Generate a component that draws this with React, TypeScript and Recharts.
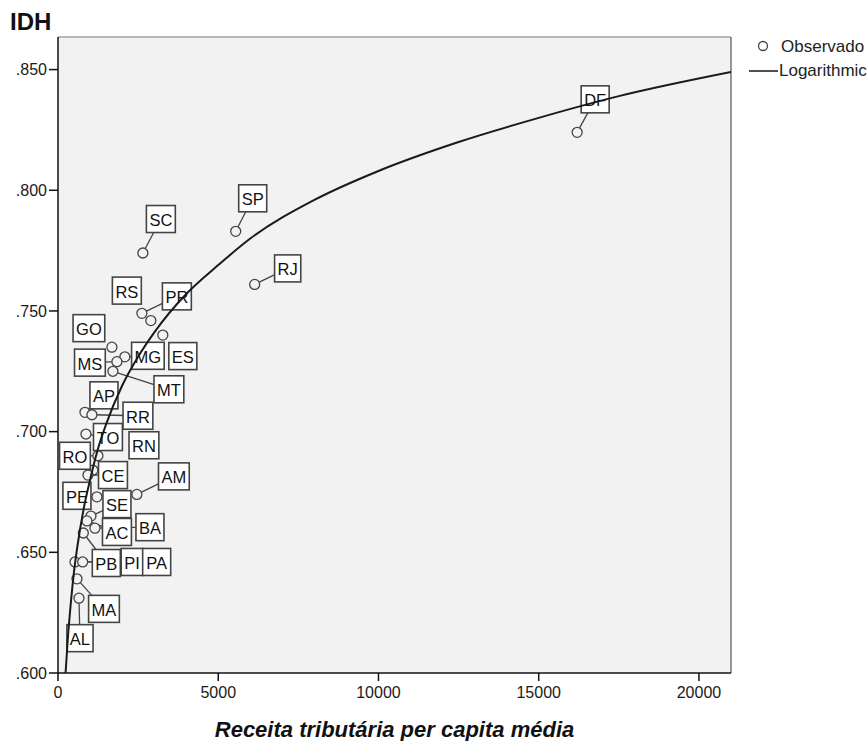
import React from "react"
import {
  ComposedChart,
  Scatter,
  Line,
  XAxis,
  YAxis,
  CartesianGrid,
  ReferenceLine,
} from "recharts"

// Estados (UF), receita tributária per capita média e IDH
const ufs = ["DF", "SP", "SC", "RJ", "PR", "RS", "ES", "GO", "MG", "MS", "MT", "AP", "RR", "TO", "RO", "RN", "CE", "AM", "PE", "SE", "AC", "BA", "PB", "PI", "PA", "MA", "AL"]
const receita = [16200, 5545, 2648, 6137, 2617, 2897, 3271, 1682, 2087, 1838, 1713, 841, 1059, 872, 1246, 1090, 935, 2461, 1215, 1028, 903, 1153, 790, 530, 770, 592, 654]
const idh = [0.824, 0.783, 0.774, 0.761, 0.749, 0.746, 0.740, 0.735, 0.731, 0.729, 0.725, 0.708, 0.707, 0.699, 0.690, 0.684, 0.682, 0.674, 0.673, 0.665, 0.663, 0.660, 0.658, 0.646, 0.646, 0.639, 0.631]

// curva logarítmica ajustada
const curveX = [236, 300, 400, 500, 600, 800, 1000, 1250, 1500, 2000, 2500, 3000, 4000, 5000, 6000, 8000, 10000, 12500, 15000, 17500, 21000]
const curveY = [0.600, 0.613, 0.629, 0.642, 0.652, 0.668, 0.680, 0.693, 0.703, 0.719, 0.731, 0.741, 0.757, 0.769, 0.780, 0.796, 0.808, 0.820, 0.830, 0.839, 0.849]

const xTicks = [0, 5000, 10000, 15000, 20000]
const yTicks = [0.6, 0.65, 0.7, 0.75, 0.8, 0.85]

// posição das etiquetas (deslocamento em px a partir do ponto)
const labelPos: Record<string, [number, number]> = {
  DF: [18, -33], SP: [17, -33], SC: [18, -34], RJ: [33, -16], PR: [35, -17],
  RS: [-24, -30], ES: [20, 21], GO: [-23, -19], MG: [23, -1], MS: [-27, 1],
  MT: [56, 18], AP: [19, -17], RR: [46, 1], TO: [22, 3], RO: [-23, 0],
  RN: [51, -25], CE: [25, 0], AM: [37, -18], PE: [-20, -1], SE: [26, -12],
  AC: [30, 11], BA: [55, -1], PB: [23, 30], PI: [57, 0], PA: [74, 0],
  MA: [27, 30], AL: [1, 40],
}
const noLeader = ["RN", "RS", "GO", "ES"]

const FONT = "'Liberation Sans', Arial, sans-serif"
const BG = "#f2f2f2"

const charW: Record<string, number> = {
  A: 0.667, B: 0.667, C: 0.722, D: 0.722, E: 0.667, F: 0.611, G: 0.778, I: 0.278,
  J: 0.5, L: 0.556, M: 0.833, N: 0.722, O: 0.778, P: 0.667, R: 0.722, S: 0.667, T: 0.611,
}
const boxWidth = (s: string) => s.split("").reduce((w, c) => w + (charW[c] ?? 0.667), 0) * 16.5 + 6

const points = ufs.map((uf, i) => ({ x: receita[i], y: idh[i], uf }))
const curve = curveX.map((x, i) => ({ x, y: curveY[i] }))

const PointShape = (props: any) => {
  const { cx, cy, payload } = props
  const [dx, dy] = labelPos[payload.uf] ?? [20, -20]
  return (
    <g>
      {!noLeader.includes(payload.uf) && (
        <line x1={cx} y1={cy} x2={cx + dx} y2={cy + dy} stroke="#444" strokeWidth={1.3} />
      )}
      <circle cx={cx} cy={cy} r={5} fill={BG} stroke="#444" strokeWidth={1.3} />
    </g>
  )
}

const LabelShape = (props: any) => {
  const { cx, cy, payload } = props
  const [dx, dy] = labelPos[payload.uf] ?? [20, -20]
  const w = boxWidth(payload.uf)
  const h = 27
  const bx = cx + dx
  const by = cy + dy
  return (
    <g>
      <rect x={bx - w / 2} y={by - h / 2} width={w} height={h} fill="#fff" stroke="#444" strokeWidth={1.6} />
      <text x={bx} y={by + 1} textAnchor="middle" dominantBaseline="central" fontSize={16.5} fontFamily={FONT} fill="#111">
        {payload.uf}
      </text>
    </g>
  )
}

export default function App() {
  return (
    <div style={{ position: "absolute", left: 0, top: 0, width: 868, height: 741, background: "#fff", fontFamily: FONT }}>
      <ComposedChart width={868} height={741} margin={{ top: 37, right: 137, bottom: 28, left: 0 }}>
        <CartesianGrid horizontal={false} vertical={false} fill={BG} />
        <XAxis
          type="number"
          dataKey="x"
          domain={[0, 21000]}
          ticks={xTicks}
          allowDataOverflow
          height={40}
          tickSize={8}
          tickMargin={6}
          stroke="#111"
          strokeWidth={1.5}
          tick={{ fill: "#1a1a1a", fontSize: 16, fontFamily: FONT }}
        />
        <YAxis
          type="number"
          dataKey="y"
          domain={[0.6, 0.8635]}
          ticks={yTicks}
          allowDataOverflow
          width={58}
          tickSize={9}
          tickMargin={2}
          stroke="#111"
          strokeWidth={1.5}
          tick={{ fill: "#1a1a1a", fontSize: 16, fontFamily: FONT }}
          tickFormatter={(v: number) => v.toFixed(3).replace(/^0/, "")}
        />
        <ReferenceLine y={0.8635} stroke="#777" strokeWidth={1.2} />
        <ReferenceLine x={21000} stroke="#555" strokeWidth={1.2} />
        <Scatter data={points} shape={PointShape} isAnimationActive={false} zIndex={500} />
        <Scatter data={points} shape={LabelShape} isAnimationActive={false} zIndex={550} />
        <Line
          data={curve}
          dataKey="y"
          type="monotone"
          stroke="#1a1a1a"
          strokeWidth={2}
          dot={false}
          activeDot={false}
          isAnimationActive={false}
          zIndex={700}
        />
      </ComposedChart>
      <svg width={868} height={741} style={{ position: "absolute", left: 0, top: 0, pointerEvents: "none" }}>
        <text x={10} y={30} fontSize={24} fontWeight="bold" fontFamily={FONT} fill="#111">IDH</text>
        <text x={394.5} y={737} textAnchor="middle" fontSize={22} fontWeight="bold" fontStyle="italic" fontFamily={FONT} fill="#111">
          Receita tributária per capita média
        </text>
        <circle cx={763} cy={46} r={4.5} fill="#fff" stroke="#444" strokeWidth={1.3} />
        <text x={781} y={46} dominantBaseline="central" fontSize={17} fontFamily={FONT} fill="#222">Observado</text>
        <line x1={749} y1={71} x2={778} y2={71} stroke="#222" strokeWidth={1.6} />
        <text x={779} y={70} dominantBaseline="central" fontSize={17} fontFamily={FONT} fill="#222">Logarithmic</text>
      </svg>
    </div>
  )
}
